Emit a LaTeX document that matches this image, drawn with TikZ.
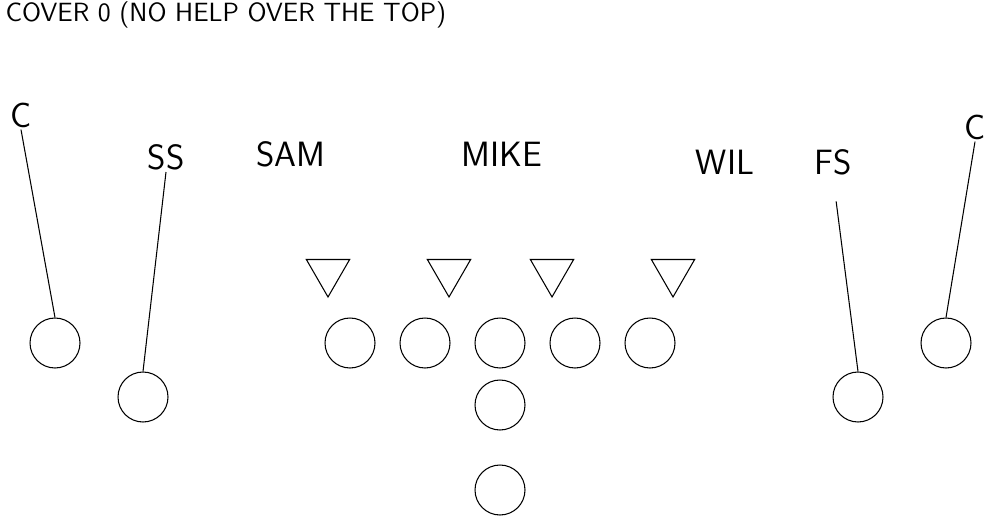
\documentclass[tikz,border=0pt]{standalone}
\usepackage{tikz}
\usetikzlibrary{shapes.geometric}

\begin{document}
\begin{tikzpicture}[x=0.02cm, y=-0.02cm, line width=0.6pt,
    player/.style={draw, circle, minimum size=1cm, inner sep=0pt},
    rusher/.style={draw, regular polygon, regular polygon sides=3,
        shape border rotate=180, minimum size=1cm, inner sep=0pt},
    tag/.style={font=\sffamily\fontsize{20}{20}\selectfont, inner sep=1pt}]
    \useasboundingbox (0,0) rectangle (1000,530);

    \node [anchor=west, font=\sffamily\fontsize{15}{15}\selectfont, inner sep=0pt]
        (title) at (5,15) {COVER 0 (NO HELP OVER THE TOP)};

    % offense
    \node [player] (lt) at (350,343) {};
    \node [player] (lg) at (425,343) {};
    \node [player] (ce) at (500,343) {};
    \node [player] (rg) at (575,343) {};
    \node [player] (rt) at (650,343) {};
    \node [player] (qb) at (500,405) {};
    \node [player] (rb) at (500,490) {};
    \node [player] (wrl) at (55,343) {};
    \node [player] (wrr) at (946,343) {};
    \node [player] (tel) at (143,397) {};
    \node [player] (ter) at (858,397) {};

    % defense
    \node [rusher] (dl1) at (328,272) {};
    \node [rusher] (dl2) at (449,272) {};
    \node [rusher] (dl3) at (552,272) {};
    \node [rusher] (dl4) at (673,272) {};

    \node [tag] (cl) at (21,115) {C};
    \node [tag] (ss) at (166,157) {SS};
    \node [tag] (sam) at (291,154) {SAM};
    \node [tag] (mike) at (502,154) {MIKE};
    \node [tag] (wil) at (725,162) {WIL};
    \node [tag] (fs) at (833,162) {FS};
    \node [tag] (cr) at (975,127) {C};

    % man coverage
    \draw (cl.south) -- (wrl.north);
    \draw (ss.south) -- (tel.north);
    \draw [shorten <=14pt] (fs.south) -- (ter.north);
    \draw (cr.south) -- (wrr.north);
\end{tikzpicture}
\end{document}
